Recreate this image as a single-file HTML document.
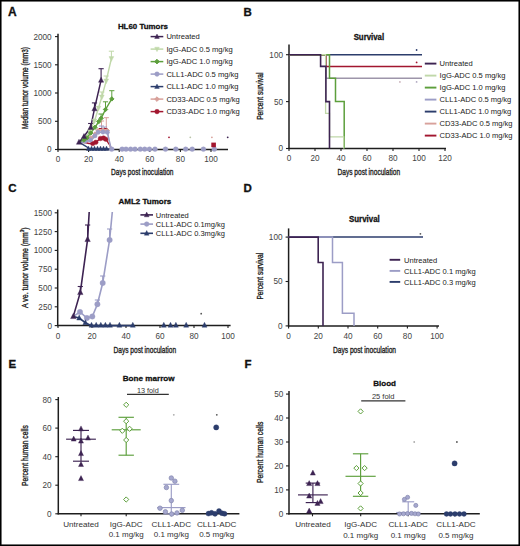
<!DOCTYPE html>
<html><head><meta charset="utf-8"><style>
html,body{margin:0;padding:0;background:#fff;}
svg{display:block;font-family:"Liberation Sans", sans-serif;}
</style></head><body>
<svg width="520" height="546" viewBox="0 0 520 546">
<rect x="0" y="0" width="520" height="546" fill="#fff"/>
<text x="8.1" y="15.6" font-size="12" text-anchor="start" fill="#111" font-weight="bold" stroke="#111" stroke-width="0.3">A</text>
<text x="243.5" y="15.5" font-size="11.5" text-anchor="start" fill="#111" font-weight="bold" stroke="#111" stroke-width="0.3">B</text>
<text x="8.2" y="191.6" font-size="11.5" text-anchor="start" fill="#111" font-weight="bold" stroke="#111" stroke-width="0.3">C</text>
<text x="243.5" y="191.6" font-size="11.5" text-anchor="start" fill="#111" font-weight="bold" stroke="#111" stroke-width="0.3">D</text>
<text x="8.4" y="368.3" font-size="11.5" text-anchor="start" fill="#111" font-weight="bold" stroke="#111" stroke-width="0.3">E</text>
<text x="244.4" y="368.2" font-size="11.5" text-anchor="start" fill="#111" font-weight="bold" stroke="#111" stroke-width="0.3">F</text>
<text x="142.9" y="28.6" font-size="8" text-anchor="middle" fill="#111" font-weight="bold" textLength="50" lengthAdjust="spacingAndGlyphs" stroke="#111" stroke-width="0.3">HL60 Tumors</text>
<line x1="58.0" y1="33.8" x2="58.0" y2="150.1" stroke="#1e1e1e" stroke-width="1.5" />
<line x1="55.0" y1="36.6" x2="58.0" y2="36.6" stroke="#1e1e1e" stroke-width="1.1" />
<text x="51.6" y="39.5" font-size="8.2" text-anchor="end" fill="#444" >2000</text>
<line x1="55.0" y1="64.8" x2="58.0" y2="64.8" stroke="#1e1e1e" stroke-width="1.1" />
<text x="51.6" y="67.7" font-size="8.2" text-anchor="end" fill="#444" >1500</text>
<line x1="55.0" y1="93.0" x2="58.0" y2="93.0" stroke="#1e1e1e" stroke-width="1.1" />
<text x="51.6" y="96.0" font-size="8.2" text-anchor="end" fill="#444" >1000</text>
<line x1="55.0" y1="121.3" x2="58.0" y2="121.3" stroke="#1e1e1e" stroke-width="1.1" />
<text x="51.6" y="124.2" font-size="8.2" text-anchor="end" fill="#444" >500</text>
<line x1="55.0" y1="149.5" x2="58.0" y2="149.5" stroke="#1e1e1e" stroke-width="1.1" />
<text x="51.6" y="152.4" font-size="8.2" text-anchor="end" fill="#444" >0</text>
<line x1="57.3" y1="149.5" x2="228.0" y2="149.5" stroke="#1e1e1e" stroke-width="1.5" />
<line x1="58.0" y1="149.5" x2="58.0" y2="152.0" stroke="#1e1e1e" stroke-width="1.1" />
<text x="58.0" y="162.4" font-size="8.2" text-anchor="middle" fill="#444" >0</text>
<line x1="88.6" y1="149.5" x2="88.6" y2="152.0" stroke="#1e1e1e" stroke-width="1.1" />
<text x="88.6" y="162.4" font-size="8.2" text-anchor="middle" fill="#444" >20</text>
<line x1="119.2" y1="149.5" x2="119.2" y2="152.0" stroke="#1e1e1e" stroke-width="1.1" />
<text x="119.2" y="162.4" font-size="8.2" text-anchor="middle" fill="#444" >40</text>
<line x1="149.8" y1="149.5" x2="149.8" y2="152.0" stroke="#1e1e1e" stroke-width="1.1" />
<text x="149.8" y="162.4" font-size="8.2" text-anchor="middle" fill="#444" >60</text>
<line x1="180.4" y1="149.5" x2="180.4" y2="152.0" stroke="#1e1e1e" stroke-width="1.1" />
<text x="180.4" y="162.4" font-size="8.2" text-anchor="middle" fill="#444" >80</text>
<line x1="211.0" y1="149.5" x2="211.0" y2="152.0" stroke="#1e1e1e" stroke-width="1.1" />
<text x="211.0" y="162.4" font-size="8.2" text-anchor="middle" fill="#444" >100</text>
<text x="142.3" y="175.4" font-size="9.4" text-anchor="middle" fill="#222" textLength="62.4" lengthAdjust="spacingAndGlyphs" stroke="#222" stroke-width="0.35">Days post inoculation</text>
<text x="27.9" y="88.0" font-size="9.4" text-anchor="middle" fill="#222" textLength="82" lengthAdjust="spacingAndGlyphs" transform="rotate(-90 27.9 88.0)" stroke="#222" stroke-width="0.35">Median tumor volume (mm3)</text>
<text x="368.9" y="39.5" font-size="8.8" text-anchor="middle" fill="#111" font-weight="bold" textLength="30.5" lengthAdjust="spacingAndGlyphs" stroke="#111" stroke-width="0.3">Survival</text>
<line x1="289.0" y1="44.4" x2="289.0" y2="149.1" stroke="#1e1e1e" stroke-width="1.5" />
<line x1="286.0" y1="54.7" x2="289.0" y2="54.7" stroke="#1e1e1e" stroke-width="1.1" />
<text x="283.0" y="57.6" font-size="8.2" text-anchor="end" fill="#444" >100</text>
<line x1="286.0" y1="101.6" x2="289.0" y2="101.6" stroke="#1e1e1e" stroke-width="1.1" />
<text x="283.0" y="104.5" font-size="8.2" text-anchor="end" fill="#444" >50</text>
<line x1="286.0" y1="148.5" x2="289.0" y2="148.5" stroke="#1e1e1e" stroke-width="1.1" />
<text x="283.0" y="151.4" font-size="8.2" text-anchor="end" fill="#444" >0</text>
<line x1="288.3" y1="148.5" x2="446.0" y2="148.5" stroke="#1e1e1e" stroke-width="1.5" />
<line x1="289.0" y1="148.5" x2="289.0" y2="151.0" stroke="#1e1e1e" stroke-width="1.1" />
<text x="289.0" y="161.4" font-size="8.2" text-anchor="middle" fill="#444" >0</text>
<line x1="315.0" y1="148.5" x2="315.0" y2="151.0" stroke="#1e1e1e" stroke-width="1.1" />
<text x="315.0" y="161.4" font-size="8.2" text-anchor="middle" fill="#444" >20</text>
<line x1="341.0" y1="148.5" x2="341.0" y2="151.0" stroke="#1e1e1e" stroke-width="1.1" />
<text x="341.0" y="161.4" font-size="8.2" text-anchor="middle" fill="#444" >40</text>
<line x1="367.0" y1="148.5" x2="367.0" y2="151.0" stroke="#1e1e1e" stroke-width="1.1" />
<text x="367.0" y="161.4" font-size="8.2" text-anchor="middle" fill="#444" >60</text>
<line x1="393.0" y1="148.5" x2="393.0" y2="151.0" stroke="#1e1e1e" stroke-width="1.1" />
<text x="393.0" y="161.4" font-size="8.2" text-anchor="middle" fill="#444" >80</text>
<line x1="419.0" y1="148.5" x2="419.0" y2="151.0" stroke="#1e1e1e" stroke-width="1.1" />
<text x="419.0" y="161.4" font-size="8.2" text-anchor="middle" fill="#444" >100</text>
<line x1="445.0" y1="148.5" x2="445.0" y2="151.0" stroke="#1e1e1e" stroke-width="1.1" />
<text x="445.0" y="161.4" font-size="8.2" text-anchor="middle" fill="#444" >120</text>
<text x="368.8" y="175.4" font-size="9.4" text-anchor="middle" fill="#222" textLength="62.5" lengthAdjust="spacingAndGlyphs" stroke="#222" stroke-width="0.35">Days post inoculation</text>
<text x="263.1" y="96.2" font-size="9.4" text-anchor="middle" fill="#222" textLength="47.2" lengthAdjust="spacingAndGlyphs" transform="rotate(-90 263.1 96.2)" stroke="#222" stroke-width="0.35">Percent survival</text>
<text x="144.9" y="204.3" font-size="8" text-anchor="middle" fill="#111" font-weight="bold" textLength="52.8" lengthAdjust="spacingAndGlyphs" stroke="#111" stroke-width="0.3">AML2 Tumors</text>
<line x1="57.7" y1="209.5" x2="57.7" y2="326.2" stroke="#1e1e1e" stroke-width="1.5" />
<line x1="54.7" y1="212.8" x2="57.7" y2="212.8" stroke="#1e1e1e" stroke-width="1.1" />
<text x="52.0" y="215.7" font-size="8.2" text-anchor="end" fill="#444" >1500</text>
<line x1="54.7" y1="231.6" x2="57.7" y2="231.6" stroke="#1e1e1e" stroke-width="1.1" />
<text x="52.0" y="234.5" font-size="8.2" text-anchor="end" fill="#444" >1250</text>
<line x1="54.7" y1="250.4" x2="57.7" y2="250.4" stroke="#1e1e1e" stroke-width="1.1" />
<text x="52.0" y="253.3" font-size="8.2" text-anchor="end" fill="#444" >1000</text>
<line x1="54.7" y1="269.2" x2="57.7" y2="269.2" stroke="#1e1e1e" stroke-width="1.1" />
<text x="52.0" y="272.1" font-size="8.2" text-anchor="end" fill="#444" >750</text>
<line x1="54.7" y1="288.0" x2="57.7" y2="288.0" stroke="#1e1e1e" stroke-width="1.1" />
<text x="52.0" y="290.9" font-size="8.2" text-anchor="end" fill="#444" >500</text>
<line x1="54.7" y1="306.8" x2="57.7" y2="306.8" stroke="#1e1e1e" stroke-width="1.1" />
<text x="52.0" y="309.7" font-size="8.2" text-anchor="end" fill="#444" >250</text>
<line x1="54.7" y1="325.6" x2="57.7" y2="325.6" stroke="#1e1e1e" stroke-width="1.1" />
<text x="52.0" y="328.5" font-size="8.2" text-anchor="end" fill="#444" >0</text>
<line x1="57.0" y1="325.6" x2="230.6" y2="325.6" stroke="#1e1e1e" stroke-width="1.5" />
<line x1="58.0" y1="325.6" x2="58.0" y2="328.1" stroke="#1e1e1e" stroke-width="1.1" />
<text x="58.0" y="339.4" font-size="8.2" text-anchor="middle" fill="#444" >0</text>
<line x1="92.0" y1="325.6" x2="92.0" y2="328.1" stroke="#1e1e1e" stroke-width="1.1" />
<text x="92.0" y="339.4" font-size="8.2" text-anchor="middle" fill="#444" >20</text>
<line x1="126.0" y1="325.6" x2="126.0" y2="328.1" stroke="#1e1e1e" stroke-width="1.1" />
<text x="126.0" y="339.4" font-size="8.2" text-anchor="middle" fill="#444" >40</text>
<line x1="160.0" y1="325.6" x2="160.0" y2="328.1" stroke="#1e1e1e" stroke-width="1.1" />
<text x="160.0" y="339.4" font-size="8.2" text-anchor="middle" fill="#444" >60</text>
<line x1="194.0" y1="325.6" x2="194.0" y2="328.1" stroke="#1e1e1e" stroke-width="1.1" />
<text x="194.0" y="339.4" font-size="8.2" text-anchor="middle" fill="#444" >80</text>
<line x1="228.0" y1="325.6" x2="228.0" y2="328.1" stroke="#1e1e1e" stroke-width="1.1" />
<text x="228.0" y="339.4" font-size="8.2" text-anchor="middle" fill="#444" >100</text>
<text x="144.8" y="352.6" font-size="9.4" text-anchor="middle" fill="#222" textLength="62.6" lengthAdjust="spacingAndGlyphs" stroke="#222" stroke-width="0.35">Days post inoculation</text>
<text x="27.7" y="267.7" font-size="9.4" text-anchor="middle" fill="#222" textLength="80.5" lengthAdjust="spacingAndGlyphs" transform="rotate(-90 27.7 267.7)" stroke="#222" stroke-width="0.35">A ve. tumor volume (mm<tspan font-size="6" dy="-3.5">3</tspan><tspan dy="3.5">)</tspan></text>
<text x="364.4" y="222.2" font-size="8.8" text-anchor="middle" fill="#111" font-weight="bold" textLength="30.8" lengthAdjust="spacingAndGlyphs" stroke="#111" stroke-width="0.3">Survival</text>
<line x1="288.6" y1="228.4" x2="288.6" y2="326.5" stroke="#1e1e1e" stroke-width="1.5" />
<line x1="285.6" y1="237.1" x2="288.6" y2="237.1" stroke="#1e1e1e" stroke-width="1.1" />
<text x="282.5" y="240.0" font-size="8.2" text-anchor="end" fill="#444" >100</text>
<line x1="285.6" y1="281.5" x2="288.6" y2="281.5" stroke="#1e1e1e" stroke-width="1.1" />
<text x="282.5" y="284.4" font-size="8.2" text-anchor="end" fill="#444" >50</text>
<line x1="285.6" y1="325.9" x2="288.6" y2="325.9" stroke="#1e1e1e" stroke-width="1.1" />
<text x="282.5" y="328.8" font-size="8.2" text-anchor="end" fill="#444" >0</text>
<line x1="287.9" y1="325.9" x2="439.0" y2="325.9" stroke="#1e1e1e" stroke-width="1.5" />
<line x1="288.6" y1="325.9" x2="288.6" y2="328.4" stroke="#1e1e1e" stroke-width="1.1" />
<text x="288.6" y="338.9" font-size="8.2" text-anchor="middle" fill="#444" >0</text>
<line x1="318.3" y1="325.9" x2="318.3" y2="328.4" stroke="#1e1e1e" stroke-width="1.1" />
<text x="318.3" y="338.9" font-size="8.2" text-anchor="middle" fill="#444" >20</text>
<line x1="348.0" y1="325.9" x2="348.0" y2="328.4" stroke="#1e1e1e" stroke-width="1.1" />
<text x="348.0" y="338.9" font-size="8.2" text-anchor="middle" fill="#444" >40</text>
<line x1="377.7" y1="325.9" x2="377.7" y2="328.4" stroke="#1e1e1e" stroke-width="1.1" />
<text x="377.7" y="338.9" font-size="8.2" text-anchor="middle" fill="#444" >60</text>
<line x1="407.4" y1="325.9" x2="407.4" y2="328.4" stroke="#1e1e1e" stroke-width="1.1" />
<text x="407.4" y="338.9" font-size="8.2" text-anchor="middle" fill="#444" >80</text>
<line x1="437.1" y1="325.9" x2="437.1" y2="328.4" stroke="#1e1e1e" stroke-width="1.1" />
<text x="437.1" y="338.9" font-size="8.2" text-anchor="middle" fill="#444" >100</text>
<text x="364.5" y="352.6" font-size="9.4" text-anchor="middle" fill="#222" textLength="63.1" lengthAdjust="spacingAndGlyphs" stroke="#222" stroke-width="0.35">Days post inoculation</text>
<text x="263.0" y="276.2" font-size="9.4" text-anchor="middle" fill="#222" textLength="46.7" lengthAdjust="spacingAndGlyphs" transform="rotate(-90 263.0 276.2)" stroke="#222" stroke-width="0.35">Percent survival</text>
<text x="148.7" y="381.3" font-size="8" text-anchor="middle" fill="#111" font-weight="bold" textLength="51.9" lengthAdjust="spacingAndGlyphs" stroke="#111" stroke-width="0.3">Bone marrow</text>
<text x="147.8" y="392.8" font-size="7.6" text-anchor="middle" fill="#333" textLength="21.8" lengthAdjust="spacingAndGlyphs" >13 fold</text>
<line x1="127.0" y1="394.4" x2="168.8" y2="394.4" stroke="#333" stroke-width="1.2" />
<line x1="58.3" y1="397.0" x2="58.3" y2="514.4" stroke="#1e1e1e" stroke-width="1.5" />
<line x1="55.3" y1="399.6" x2="58.3" y2="399.6" stroke="#1e1e1e" stroke-width="1.1" />
<text x="51.5" y="402.5" font-size="8.2" text-anchor="end" fill="#444" >80</text>
<line x1="55.3" y1="428.1" x2="58.3" y2="428.1" stroke="#1e1e1e" stroke-width="1.1" />
<text x="51.5" y="431.0" font-size="8.2" text-anchor="end" fill="#444" >60</text>
<line x1="55.3" y1="456.7" x2="58.3" y2="456.7" stroke="#1e1e1e" stroke-width="1.1" />
<text x="51.5" y="459.6" font-size="8.2" text-anchor="end" fill="#444" >40</text>
<line x1="55.3" y1="485.2" x2="58.3" y2="485.2" stroke="#1e1e1e" stroke-width="1.1" />
<text x="51.5" y="488.1" font-size="8.2" text-anchor="end" fill="#444" >20</text>
<line x1="55.3" y1="513.8" x2="58.3" y2="513.8" stroke="#1e1e1e" stroke-width="1.1" />
<text x="51.5" y="516.7" font-size="8.2" text-anchor="end" fill="#444" >0</text>
<line x1="57.6" y1="513.8" x2="239.4" y2="513.8" stroke="#1e1e1e" stroke-width="1.5" />
<line x1="81.0" y1="513.8" x2="81.0" y2="516.3" stroke="#1e1e1e" stroke-width="1.1" />
<line x1="126.2" y1="513.8" x2="126.2" y2="516.3" stroke="#1e1e1e" stroke-width="1.1" />
<line x1="171.3" y1="513.8" x2="171.3" y2="516.3" stroke="#1e1e1e" stroke-width="1.1" />
<line x1="215.1" y1="513.8" x2="215.1" y2="516.3" stroke="#1e1e1e" stroke-width="1.1" />
<text x="81.0" y="526.9" font-size="8.1" text-anchor="middle" fill="#333" >Untreated</text>
<text x="126.2" y="526.9" font-size="8.1" text-anchor="middle" fill="#333" >IgG-ADC</text>
<text x="126.2" y="537.0" font-size="8.0" text-anchor="middle" fill="#333" >0.1 mg/kg</text>
<text x="171.3" y="526.9" font-size="8.1" text-anchor="middle" fill="#333" textLength="39.5" lengthAdjust="spacingAndGlyphs" >CLL1-ADC</text>
<text x="171.3" y="537.0" font-size="8.0" text-anchor="middle" fill="#333" >0.1 mg/kg</text>
<text x="216.7" y="526.9" font-size="8.1" text-anchor="middle" fill="#333" textLength="39.5" lengthAdjust="spacingAndGlyphs" >CLL1-ADC</text>
<text x="216.7" y="537.0" font-size="8.0" text-anchor="middle" fill="#333" >0.5 mg/kg</text>
<text x="27.8" y="455.6" font-size="9.4" text-anchor="middle" fill="#222" textLength="60.7" lengthAdjust="spacingAndGlyphs" transform="rotate(-90 27.8 455.6)" stroke="#222" stroke-width="0.35">Percent human cells</text>
<text x="384.6" y="386.2" font-size="8" text-anchor="middle" fill="#111" font-weight="bold" textLength="22.7" lengthAdjust="spacingAndGlyphs" stroke="#111" stroke-width="0.3">Blood</text>
<text x="383.2" y="398.6" font-size="7.6" text-anchor="middle" fill="#333" textLength="22.5" lengthAdjust="spacingAndGlyphs" >25 fold</text>
<line x1="361.2" y1="400.8" x2="405.4" y2="400.8" stroke="#333" stroke-width="1.2" />
<line x1="289.0" y1="391.0" x2="289.0" y2="514.4" stroke="#1e1e1e" stroke-width="1.5" />
<line x1="286.0" y1="394.1" x2="289.0" y2="394.1" stroke="#1e1e1e" stroke-width="1.1" />
<text x="283.3" y="397.0" font-size="8.2" text-anchor="end" fill="#444" >50</text>
<line x1="286.0" y1="418.0" x2="289.0" y2="418.0" stroke="#1e1e1e" stroke-width="1.1" />
<text x="283.3" y="420.9" font-size="8.2" text-anchor="end" fill="#444" >40</text>
<line x1="286.0" y1="442.0" x2="289.0" y2="442.0" stroke="#1e1e1e" stroke-width="1.1" />
<text x="283.3" y="444.9" font-size="8.2" text-anchor="end" fill="#444" >30</text>
<line x1="286.0" y1="465.9" x2="289.0" y2="465.9" stroke="#1e1e1e" stroke-width="1.1" />
<text x="283.3" y="468.8" font-size="8.2" text-anchor="end" fill="#444" >20</text>
<line x1="286.0" y1="489.9" x2="289.0" y2="489.9" stroke="#1e1e1e" stroke-width="1.1" />
<text x="283.3" y="492.8" font-size="8.2" text-anchor="end" fill="#444" >10</text>
<line x1="286.0" y1="513.8" x2="289.0" y2="513.8" stroke="#1e1e1e" stroke-width="1.1" />
<text x="283.3" y="516.7" font-size="8.2" text-anchor="end" fill="#444" >0</text>
<line x1="288.3" y1="513.8" x2="479.8" y2="513.8" stroke="#1e1e1e" stroke-width="1.5" />
<line x1="312.5" y1="513.8" x2="312.5" y2="516.3" stroke="#1e1e1e" stroke-width="1.1" />
<line x1="360.7" y1="513.8" x2="360.7" y2="516.3" stroke="#1e1e1e" stroke-width="1.1" />
<line x1="408.2" y1="513.8" x2="408.2" y2="516.3" stroke="#1e1e1e" stroke-width="1.1" />
<line x1="454.6" y1="513.8" x2="454.6" y2="516.3" stroke="#1e1e1e" stroke-width="1.1" />
<text x="313.0" y="527.0" font-size="8.1" text-anchor="middle" fill="#333" >Untreated</text>
<text x="360.7" y="527.0" font-size="8.1" text-anchor="middle" fill="#333" >IgG-ADC</text>
<text x="360.7" y="537.6" font-size="8.0" text-anchor="middle" fill="#333" >0.1 mg/kg</text>
<text x="408.2" y="527.0" font-size="8.1" text-anchor="middle" fill="#333" textLength="39.5" lengthAdjust="spacingAndGlyphs" >CLL1-ADC</text>
<text x="408.2" y="537.6" font-size="8.0" text-anchor="middle" fill="#333" >0.1 mg/kg</text>
<text x="456.0" y="527.0" font-size="8.1" text-anchor="middle" fill="#333" textLength="39.5" lengthAdjust="spacingAndGlyphs" >CLL1-ADC</text>
<text x="456.0" y="537.6" font-size="8.0" text-anchor="middle" fill="#333" >0.5 mg/kg</text>
<text x="263.1" y="452.3" font-size="9.4" text-anchor="middle" fill="#222" textLength="61.2" lengthAdjust="spacingAndGlyphs" transform="rotate(-90 263.1 452.3)" stroke="#222" stroke-width="0.35">Percent human cells</text>
<line x1="101.1" y1="80.2" x2="101.1" y2="68.7" stroke="#3d2352" stroke-width="1.1" />
<line x1="98.5" y1="68.7" x2="103.7" y2="68.7" stroke="#3d2352" stroke-width="1.1" />
<line x1="94.5" y1="108.7" x2="94.5" y2="102.9" stroke="#3d2352" stroke-width="1.1" />
<line x1="91.9" y1="102.9" x2="97.1" y2="102.9" stroke="#3d2352" stroke-width="1.1" />
<line x1="90.7" y1="127.3" x2="90.7" y2="123.5" stroke="#3d2352" stroke-width="1.1" />
<line x1="88.1" y1="123.5" x2="93.3" y2="123.5" stroke="#3d2352" stroke-width="1.1" />
<line x1="111.4" y1="58.5" x2="111.4" y2="51.2" stroke="#c0d8a9" stroke-width="1.0" />
<line x1="108.8" y1="51.2" x2="114.0" y2="51.2" stroke="#c0d8a9" stroke-width="1.0" />
<line x1="106.2" y1="80.9" x2="106.2" y2="76.0" stroke="#c0d8a9" stroke-width="1.0" />
<line x1="103.6" y1="76.0" x2="108.8" y2="76.0" stroke="#c0d8a9" stroke-width="1.0" />
<line x1="101.8" y1="97.0" x2="101.8" y2="92.0" stroke="#c0d8a9" stroke-width="1.0" />
<line x1="99.2" y1="92.0" x2="104.4" y2="92.0" stroke="#c0d8a9" stroke-width="1.0" />
<line x1="111.8" y1="98.9" x2="111.8" y2="90.7" stroke="#5d9f3c" stroke-width="1.0" />
<line x1="109.2" y1="90.7" x2="114.4" y2="90.7" stroke="#5d9f3c" stroke-width="1.0" />
<line x1="105.5" y1="109.5" x2="105.5" y2="101.8" stroke="#5d9f3c" stroke-width="1.0" />
<line x1="102.9" y1="101.8" x2="108.1" y2="101.8" stroke="#5d9f3c" stroke-width="1.0" />
<line x1="101.1" y1="118.3" x2="101.1" y2="114.0" stroke="#5d9f3c" stroke-width="1.0" />
<line x1="98.5" y1="114.0" x2="103.7" y2="114.0" stroke="#5d9f3c" stroke-width="1.0" />
<line x1="106.3" y1="130.0" x2="106.3" y2="117.7" stroke="#d8a19b" stroke-width="1.0" />
<line x1="103.7" y1="117.7" x2="108.9" y2="117.7" stroke="#d8a19b" stroke-width="1.0" />
<line x1="101.5" y1="130.0" x2="101.5" y2="121.0" stroke="#d8a19b" stroke-width="1.0" />
<line x1="98.9" y1="121.0" x2="104.1" y2="121.0" stroke="#d8a19b" stroke-width="1.0" />
<line x1="101.5" y1="132.0" x2="101.5" y2="126.0" stroke="#9c9dc6" stroke-width="1.0" />
<line x1="98.9" y1="126.0" x2="104.1" y2="126.0" stroke="#9c9dc6" stroke-width="1.0" />
<line x1="104.5" y1="132.5" x2="104.5" y2="127.0" stroke="#9c9dc6" stroke-width="1.0" />
<line x1="101.9" y1="127.0" x2="107.1" y2="127.0" stroke="#9c9dc6" stroke-width="1.0" />
<line x1="99.0" y1="128.6" x2="108.0" y2="128.6" stroke="#a2162f" stroke-width="1.2" />
<polyline points="79.0,142.2 85.0,142.5 89.0,143.5 92.7,143.5 95.8,142.3 100.4,138.5 103.5,138.0 105.8,139.2 110.4,146.0 111.0,149.0" fill="none" stroke="#a2162f" stroke-width="1.4" stroke-linejoin="miter" />
<circle cx="92.7" cy="143.5" r="2.3" fill="#a2162f" stroke="#a2162f" stroke-width="0.4"/>
<circle cx="95.8" cy="142.3" r="2.3" fill="#a2162f" stroke="#a2162f" stroke-width="0.4"/>
<circle cx="100.4" cy="138.5" r="2.3" fill="#a2162f" stroke="#a2162f" stroke-width="0.4"/>
<circle cx="103.5" cy="138.0" r="2.3" fill="#a2162f" stroke="#a2162f" stroke-width="0.4"/>
<circle cx="105.8" cy="139.2" r="2.3" fill="#a2162f" stroke="#a2162f" stroke-width="0.4"/>
<polyline points="79.0,142.2 85.0,140.0 90.4,138.0 95.0,134.0" fill="none" stroke="#d8a19b" stroke-width="1.3" stroke-linejoin="miter" />
<polyline points="79.0,142.2 85.0,141.2 90.4,140.0 95.0,135.8" fill="none" stroke="#9c9dc6" stroke-width="2.6" stroke-linejoin="miter" />
<polyline points="95.0,134.0 98.1,130.5 103.0,130.0 107.3,130.5 110.5,149.0" fill="none" stroke="#d8a19b" stroke-width="1.3" stroke-linejoin="miter" />
<polyline points="95.0,135.8 98.1,132.3 103.0,132.0 107.3,132.3 111.3,149.4" fill="none" stroke="#9c9dc6" stroke-width="1.5" stroke-linejoin="miter" />
<polyline points="79.0,142.2 84.0,139.5 90.0,131.5 94.5,121.0 98.5,108.0 101.8,97.0 106.2,80.9 111.4,58.5" fill="none" stroke="#c0d8a9" stroke-width="1.4" stroke-linejoin="miter" />
<polyline points="79.0,142.2 84.0,140.0 86.8,137.9 90.7,133.0 95.0,127.3 98.8,121.5 101.1,118.3 105.5,109.5 111.8,98.9" fill="none" stroke="#5d9f3c" stroke-width="1.4" stroke-linejoin="miter" />
<polyline points="79.0,142.2 84.0,136.5 90.7,127.3 94.5,108.7 101.1,80.2" fill="none" stroke="#3d2352" stroke-width="1.5" stroke-linejoin="miter" />
<polyline points="79.0,142.2 88.1,147.7 89.0,149.0 110.0,149.0" fill="none" stroke="#2c3d6c" stroke-width="1.5" stroke-linejoin="miter" />
<path d="M85.0,137.8 L87.2,140.0 L85.0,142.2 L82.8,140.0Z" fill="#d8a19b" stroke="#d8a19b" stroke-width="1.0"/>
<path d="M90.4,135.8 L92.6,138.0 L90.4,140.2 L88.2,138.0Z" fill="#d8a19b" stroke="#d8a19b" stroke-width="1.0"/>
<path d="M95.0,131.8 L97.2,134.0 L95.0,136.2 L92.8,134.0Z" fill="#d8a19b" stroke="#d8a19b" stroke-width="1.0"/>
<path d="M98.1,128.3 L100.3,130.5 L98.1,132.7 L95.9,130.5Z" fill="#d8a19b" stroke="#d8a19b" stroke-width="1.0"/>
<path d="M103.0,127.8 L105.2,130.0 L103.0,132.2 L100.8,130.0Z" fill="#d8a19b" stroke="#d8a19b" stroke-width="1.0"/>
<path d="M107.3,128.3 L109.5,130.5 L107.3,132.7 L105.1,130.5Z" fill="#d8a19b" stroke="#d8a19b" stroke-width="1.0"/>
<circle cx="85.0" cy="141.2" r="2.2" fill="#9c9dc6" stroke="#9c9dc6" stroke-width="0.4"/>
<circle cx="90.4" cy="140.0" r="2.2" fill="#9c9dc6" stroke="#9c9dc6" stroke-width="0.4"/>
<circle cx="95.0" cy="135.8" r="2.2" fill="#9c9dc6" stroke="#9c9dc6" stroke-width="0.4"/>
<circle cx="98.1" cy="132.3" r="2.2" fill="#9c9dc6" stroke="#9c9dc6" stroke-width="0.4"/>
<circle cx="103.0" cy="132.0" r="2.2" fill="#9c9dc6" stroke="#9c9dc6" stroke-width="0.4"/>
<circle cx="107.3" cy="132.3" r="2.2" fill="#9c9dc6" stroke="#9c9dc6" stroke-width="0.4"/>
<path d="M84.0,142.3 L86.4,137.6 L81.6,137.6Z" fill="#c0d8a9" stroke="#c0d8a9" stroke-width="0.4"/>
<path d="M90.0,134.3 L92.4,129.6 L87.6,129.6Z" fill="#c0d8a9" stroke="#c0d8a9" stroke-width="0.4"/>
<path d="M94.5,123.8 L96.9,119.1 L92.1,119.1Z" fill="#c0d8a9" stroke="#c0d8a9" stroke-width="0.4"/>
<path d="M98.5,110.8 L100.9,106.1 L96.1,106.1Z" fill="#c0d8a9" stroke="#c0d8a9" stroke-width="0.4"/>
<path d="M101.8,99.8 L104.2,95.1 L99.4,95.1Z" fill="#c0d8a9" stroke="#c0d8a9" stroke-width="0.4"/>
<path d="M106.2,83.7 L108.6,79.0 L103.8,79.0Z" fill="#c0d8a9" stroke="#c0d8a9" stroke-width="0.4"/>
<path d="M111.4,61.3 L113.8,56.6 L109.0,56.6Z" fill="#c0d8a9" stroke="#c0d8a9" stroke-width="0.4"/>
<path d="M84.0,137.8 L86.2,140.0 L84.0,142.2 L81.8,140.0Z" fill="#5d9f3c" stroke="#5d9f3c" stroke-width="1.0"/>
<path d="M86.8,135.7 L89.0,137.9 L86.8,140.1 L84.6,137.9Z" fill="#5d9f3c" stroke="#5d9f3c" stroke-width="1.0"/>
<path d="M90.7,130.8 L92.9,133.0 L90.7,135.2 L88.5,133.0Z" fill="#5d9f3c" stroke="#5d9f3c" stroke-width="1.0"/>
<path d="M95.0,125.1 L97.2,127.3 L95.0,129.5 L92.8,127.3Z" fill="#5d9f3c" stroke="#5d9f3c" stroke-width="1.0"/>
<path d="M98.8,119.3 L101.0,121.5 L98.8,123.7 L96.6,121.5Z" fill="#5d9f3c" stroke="#5d9f3c" stroke-width="1.0"/>
<path d="M101.1,116.1 L103.3,118.3 L101.1,120.5 L98.9,118.3Z" fill="#5d9f3c" stroke="#5d9f3c" stroke-width="1.0"/>
<path d="M105.5,107.3 L107.7,109.5 L105.5,111.7 L103.3,109.5Z" fill="#5d9f3c" stroke="#5d9f3c" stroke-width="1.0"/>
<path d="M111.8,96.7 L114.0,98.9 L111.8,101.1 L109.6,98.9Z" fill="#5d9f3c" stroke="#5d9f3c" stroke-width="1.0"/>
<path d="M88.5,146.1 L90.7,150.4 L86.3,150.4Z" fill="#2c3d6c" stroke="#2c3d6c" stroke-width="0.4"/>
<path d="M91.5,146.1 L93.7,150.4 L89.3,150.4Z" fill="#2c3d6c" stroke="#2c3d6c" stroke-width="0.4"/>
<path d="M94.5,146.1 L96.7,150.4 L92.3,150.4Z" fill="#2c3d6c" stroke="#2c3d6c" stroke-width="0.4"/>
<path d="M97.5,146.1 L99.7,150.4 L95.3,150.4Z" fill="#2c3d6c" stroke="#2c3d6c" stroke-width="0.4"/>
<path d="M100.5,146.1 L102.7,150.4 L98.3,150.4Z" fill="#2c3d6c" stroke="#2c3d6c" stroke-width="0.4"/>
<path d="M103.5,146.1 L105.7,150.4 L101.3,150.4Z" fill="#2c3d6c" stroke="#2c3d6c" stroke-width="0.4"/>
<path d="M106.5,146.1 L108.7,150.4 L104.3,150.4Z" fill="#2c3d6c" stroke="#2c3d6c" stroke-width="0.4"/>
<path d="M79.0,139.2 L81.6,144.3 L76.4,144.3Z" fill="#3d2352" stroke="#3d2352" stroke-width="0.4"/>
<path d="M84.0,133.5 L86.6,138.6 L81.4,138.6Z" fill="#3d2352" stroke="#3d2352" stroke-width="0.4"/>
<path d="M90.7,124.3 L93.3,129.4 L88.1,129.4Z" fill="#3d2352" stroke="#3d2352" stroke-width="0.4"/>
<path d="M94.5,105.7 L97.1,110.8 L91.9,110.8Z" fill="#3d2352" stroke="#3d2352" stroke-width="0.4"/>
<path d="M101.1,77.2 L103.7,82.3 L98.5,82.3Z" fill="#3d2352" stroke="#3d2352" stroke-width="0.4"/>
<circle cx="111.7" cy="149.2" r="2.4" fill="#9c9dc6" stroke="#9c9dc6" stroke-width="0.4"/>
<circle cx="122.1" cy="149.2" r="2.4" fill="#9c9dc6" stroke="#9c9dc6" stroke-width="0.4"/>
<circle cx="126.0" cy="149.2" r="2.4" fill="#9c9dc6" stroke="#9c9dc6" stroke-width="0.4"/>
<circle cx="130.6" cy="149.2" r="2.4" fill="#9c9dc6" stroke="#9c9dc6" stroke-width="0.4"/>
<circle cx="135.0" cy="149.2" r="2.4" fill="#9c9dc6" stroke="#9c9dc6" stroke-width="0.4"/>
<circle cx="140.3" cy="149.2" r="2.4" fill="#9c9dc6" stroke="#9c9dc6" stroke-width="0.4"/>
<circle cx="144.7" cy="149.2" r="2.4" fill="#9c9dc6" stroke="#9c9dc6" stroke-width="0.4"/>
<circle cx="149.4" cy="149.2" r="2.4" fill="#9c9dc6" stroke="#9c9dc6" stroke-width="0.4"/>
<circle cx="155.0" cy="149.2" r="2.4" fill="#9c9dc6" stroke="#9c9dc6" stroke-width="0.4"/>
<circle cx="165.5" cy="149.2" r="2.4" fill="#9c9dc6" stroke="#9c9dc6" stroke-width="0.4"/>
<circle cx="175.8" cy="149.2" r="2.4" fill="#9c9dc6" stroke="#9c9dc6" stroke-width="0.4"/>
<circle cx="185.7" cy="149.2" r="2.4" fill="#9c9dc6" stroke="#9c9dc6" stroke-width="0.4"/>
<circle cx="192.2" cy="149.2" r="2.4" fill="#9c9dc6" stroke="#9c9dc6" stroke-width="0.4"/>
<circle cx="203.4" cy="149.2" r="2.4" fill="#9c9dc6" stroke="#9c9dc6" stroke-width="0.4"/>
<circle cx="214.3" cy="149.2" r="2.4" fill="#9c9dc6" stroke="#9c9dc6" stroke-width="0.4"/>
<rect x="211.3" y="142.6" width="4.6" height="4.6" fill="#a2162f"/>
<circle cx="169" cy="137.3" r="0.9" fill="#a2162f"/>
<circle cx="190.3" cy="137.3" r="0.9" fill="#b9c4a8"/>
<circle cx="211.9" cy="137.3" r="0.9" fill="#d8a19b"/>
<circle cx="227.7" cy="137.3" r="0.9" fill="#3d2352"/>
<line x1="150.6" y1="36.6" x2="163.3" y2="36.6" stroke="#3d2352" stroke-width="1.5" />
<path d="M157.0,34.0 L159.3,38.5 L154.7,38.5Z" fill="#3d2352" stroke="#3d2352" stroke-width="0.4"/>
<text x="166.4" y="39.4" font-size="7.6" text-anchor="start" fill="#222" >Untreated</text>
<line x1="150.6" y1="49.1" x2="163.3" y2="49.1" stroke="#c0d8a9" stroke-width="1.5" />
<path d="M157.0,51.7 L159.3,47.2 L154.7,47.2Z" fill="#c0d8a9" stroke="#c0d8a9" stroke-width="0.4"/>
<text x="166.4" y="51.9" font-size="7.6" text-anchor="start" fill="#222" >IgG-ADC 0.5 mg/kg</text>
<line x1="150.6" y1="61.6" x2="163.3" y2="61.6" stroke="#5d9f3c" stroke-width="1.5" />
<path d="M157.0,59.3 L159.3,61.6 L157.0,63.9 L154.7,61.6Z" fill="#5d9f3c" stroke="#5d9f3c" stroke-width="1.0"/>
<text x="166.4" y="64.4" font-size="7.6" text-anchor="start" fill="#222" >IgG-ADC 1.0 mg/kg</text>
<line x1="150.6" y1="74.1" x2="163.3" y2="74.1" stroke="#9c9dc6" stroke-width="1.5" />
<circle cx="157.0" cy="74.1" r="2.3" fill="#9c9dc6" stroke="#9c9dc6" stroke-width="0.4"/>
<text x="166.4" y="76.9" font-size="7.6" text-anchor="start" fill="#222" >CLL1-ADC 0.5 mg/kg</text>
<line x1="150.6" y1="86.6" x2="163.3" y2="86.6" stroke="#2c3d6c" stroke-width="1.5" />
<path d="M157.0,84.0 L159.3,88.5 L154.7,88.5Z" fill="#2c3d6c" stroke="#2c3d6c" stroke-width="0.4"/>
<text x="166.4" y="89.4" font-size="7.6" text-anchor="start" fill="#222" >CLL1-ADC 1.0 mg/kg</text>
<line x1="150.6" y1="99.1" x2="163.3" y2="99.1" stroke="#d8a19b" stroke-width="1.5" />
<path d="M157.0,96.8 L159.3,99.1 L157.0,101.4 L154.7,99.1Z" fill="#d8a19b" stroke="#d8a19b" stroke-width="1.0"/>
<text x="166.4" y="101.9" font-size="7.6" text-anchor="start" fill="#222" >CD33-ADC 0.5 mg/kg</text>
<line x1="150.6" y1="111.6" x2="163.3" y2="111.6" stroke="#a2162f" stroke-width="1.5" />
<circle cx="157.0" cy="111.6" r="2.3" fill="#a2162f" stroke="#a2162f" stroke-width="0.4"/>
<text x="166.4" y="114.4" font-size="7.6" text-anchor="start" fill="#222" >CD33-ADC 1.0 mg/kg</text>
<polyline points="289.0,54.7 422.0,54.7" fill="none" stroke="#2c3d6c" stroke-width="1.5" stroke-linejoin="miter" />
<polyline points="289.0,54.7 325.9,54.7 325.9,78.2 422.0,78.2" fill="none" stroke="#9d95aa" stroke-width="1.6" stroke-linejoin="miter" />
<polyline points="289.0,54.7 325.9,54.7 325.9,66.4 422.0,66.4" fill="none" stroke="#a2162f" stroke-width="1.5" stroke-linejoin="miter" />
<polyline points="289.0,54.7 329.5,54.7 329.5,78.2 335.5,78.2 335.5,101.6 344.2,101.6 344.2,148.5" fill="none" stroke="#5d9f3c" stroke-width="1.5" stroke-linejoin="miter" />
<polyline points="289.0,54.7 325.6,54.7 325.6,113.3 329.5,113.3 329.5,136.8 343.7,136.8 343.7,148.5" fill="none" stroke="#c0d8a9" stroke-width="1.3" stroke-linejoin="miter" />
<polyline points="289.0,54.7 320.6,54.7 320.6,66.4 325.9,66.4 325.9,101.6 329.5,101.6 329.5,148.5" fill="none" stroke="#3d2352" stroke-width="1.6" stroke-linejoin="miter" />
<circle cx="416.6" cy="50" r="0.9" fill="#2c3d6c"/>
<circle cx="416.6" cy="62.4" r="0.9" fill="#a2162f"/>
<circle cx="399.9" cy="81.9" r="0.9" fill="#c8b0b8"/>
<circle cx="416.6" cy="81.9" r="0.9" fill="#b0a8c0"/>
<line x1="424.8" y1="63.6" x2="436.4" y2="63.6" stroke="#3d2352" stroke-width="1.9" />
<text x="439.6" y="66.4" font-size="7.55" text-anchor="start" fill="#222" >Untreated</text>
<line x1="424.8" y1="75.6" x2="436.4" y2="75.6" stroke="#c0d8a9" stroke-width="1.9" />
<text x="439.6" y="78.4" font-size="7.55" text-anchor="start" fill="#222" >IgG-ADC 0.5 mg/kg</text>
<line x1="424.8" y1="87.6" x2="436.4" y2="87.6" stroke="#5d9f3c" stroke-width="1.9" />
<text x="439.6" y="90.4" font-size="7.55" text-anchor="start" fill="#222" >IgG-ADC 1.0 mg/kg</text>
<line x1="424.8" y1="99.6" x2="436.4" y2="99.6" stroke="#9c9dc6" stroke-width="1.9" />
<text x="439.6" y="102.4" font-size="7.55" text-anchor="start" fill="#222" >CLL1-ADC 0.5 mg/kg</text>
<line x1="424.8" y1="111.6" x2="436.4" y2="111.6" stroke="#2c3d6c" stroke-width="1.9" />
<text x="439.6" y="114.4" font-size="7.55" text-anchor="start" fill="#222" >CLL1-ADC 1.0 mg/kg</text>
<line x1="424.8" y1="123.6" x2="436.4" y2="123.6" stroke="#d8a19b" stroke-width="1.9" />
<text x="439.6" y="126.4" font-size="7.55" text-anchor="start" fill="#222" >CD33-ADC 0.5 mg/kg</text>
<line x1="424.8" y1="135.6" x2="436.4" y2="135.6" stroke="#a2162f" stroke-width="1.9" />
<text x="439.6" y="138.4" font-size="7.55" text-anchor="start" fill="#222" >CD33-ADC 1.0 mg/kg</text>
<line x1="80.3" y1="292.4" x2="80.3" y2="286.5" stroke="#3d2352" stroke-width="1.1" />
<line x1="77.7" y1="286.5" x2="82.9" y2="286.5" stroke="#3d2352" stroke-width="1.1" />
<line x1="87.6" y1="239.4" x2="87.6" y2="225.0" stroke="#3d2352" stroke-width="1.1" />
<line x1="85.0" y1="225.0" x2="90.2" y2="225.0" stroke="#3d2352" stroke-width="1.1" />
<line x1="97.4" y1="304.2" x2="97.4" y2="300.0" stroke="#9c9dc6" stroke-width="1.1" />
<line x1="94.8" y1="300.0" x2="100.0" y2="300.0" stroke="#9c9dc6" stroke-width="1.1" />
<line x1="102.7" y1="283.0" x2="102.7" y2="276.0" stroke="#9c9dc6" stroke-width="1.1" />
<line x1="100.1" y1="276.0" x2="105.3" y2="276.0" stroke="#9c9dc6" stroke-width="1.1" />
<line x1="109.6" y1="240.0" x2="109.6" y2="229.0" stroke="#9c9dc6" stroke-width="1.1" />
<line x1="107.0" y1="229.0" x2="112.2" y2="229.0" stroke="#9c9dc6" stroke-width="1.1" />
<polyline points="73.3,316.4 80.0,312.0 86.9,318.0 92.3,316.5 97.4,304.2 102.7,283.0 109.6,240.0 112.3,212.0" fill="none" stroke="#9c9dc6" stroke-width="1.6" stroke-linejoin="miter" />
<polyline points="73.3,316.4 80.3,292.4 87.6,239.4 89.2,212.0" fill="none" stroke="#3d2352" stroke-width="1.6" stroke-linejoin="miter" />
<polyline points="73.3,316.4 79.2,318.0 85.4,322.7 91.5,325.6 133.0,325.6" fill="none" stroke="#2c3d6c" stroke-width="1.6" stroke-linejoin="miter" />
<circle cx="80.0" cy="312.0" r="2.7" fill="#9c9dc6" stroke="#9c9dc6" stroke-width="0.4"/>
<circle cx="86.9" cy="318.0" r="2.7" fill="#9c9dc6" stroke="#9c9dc6" stroke-width="0.4"/>
<circle cx="92.3" cy="316.5" r="2.7" fill="#9c9dc6" stroke="#9c9dc6" stroke-width="0.4"/>
<circle cx="97.4" cy="304.2" r="2.7" fill="#9c9dc6" stroke="#9c9dc6" stroke-width="0.4"/>
<circle cx="102.7" cy="283.0" r="2.7" fill="#9c9dc6" stroke="#9c9dc6" stroke-width="0.4"/>
<circle cx="109.6" cy="240.0" r="2.7" fill="#9c9dc6" stroke="#9c9dc6" stroke-width="0.4"/>
<path d="M73.3,313.3 L76.0,318.6 L70.6,318.6Z" fill="#3d2352" stroke="#3d2352" stroke-width="0.4"/>
<path d="M80.3,289.3 L83.0,294.6 L77.6,294.6Z" fill="#3d2352" stroke="#3d2352" stroke-width="0.4"/>
<path d="M87.6,236.3 L90.3,241.6 L84.9,241.6Z" fill="#3d2352" stroke="#3d2352" stroke-width="0.4"/>
<path d="M79.2,315.1 L81.7,320.0 L76.7,320.0Z" fill="#2c3d6c" stroke="#2c3d6c" stroke-width="0.4"/>
<path d="M85.4,319.8 L87.9,324.7 L82.9,324.7Z" fill="#2c3d6c" stroke="#2c3d6c" stroke-width="0.4"/>
<path d="M91.5,322.3 L94.0,327.2 L89.0,327.2Z" fill="#2c3d6c" stroke="#2c3d6c" stroke-width="0.4"/>
<path d="M96.2,322.3 L98.7,327.2 L93.7,327.2Z" fill="#2c3d6c" stroke="#2c3d6c" stroke-width="0.4"/>
<path d="M100.8,322.3 L103.3,327.2 L98.3,327.2Z" fill="#2c3d6c" stroke="#2c3d6c" stroke-width="0.4"/>
<path d="M105.4,322.3 L107.9,327.2 L102.9,327.2Z" fill="#2c3d6c" stroke="#2c3d6c" stroke-width="0.4"/>
<path d="M110.0,322.3 L112.5,327.2 L107.5,327.2Z" fill="#2c3d6c" stroke="#2c3d6c" stroke-width="0.4"/>
<path d="M119.4,322.3 L121.9,327.2 L116.9,327.2Z" fill="#2c3d6c" stroke="#2c3d6c" stroke-width="0.4"/>
<path d="M132.8,322.3 L135.3,327.2 L130.3,327.2Z" fill="#2c3d6c" stroke="#2c3d6c" stroke-width="0.4"/>
<path d="M163.8,322.3 L166.3,327.2 L161.3,327.2Z" fill="#2c3d6c" stroke="#2c3d6c" stroke-width="0.4"/>
<path d="M170.5,322.3 L173.0,327.2 L168.0,327.2Z" fill="#2c3d6c" stroke="#2c3d6c" stroke-width="0.4"/>
<path d="M175.9,322.3 L178.4,327.2 L173.4,327.2Z" fill="#2c3d6c" stroke="#2c3d6c" stroke-width="0.4"/>
<path d="M186.2,322.3 L188.7,327.2 L183.7,327.2Z" fill="#2c3d6c" stroke="#2c3d6c" stroke-width="0.4"/>
<path d="M204.5,322.3 L207.0,327.2 L202.0,327.2Z" fill="#2c3d6c" stroke="#2c3d6c" stroke-width="0.4"/>
<circle cx="201.2" cy="313.7" r="0.9" fill="#555"/>
<line x1="140.4" y1="214.9" x2="153.0" y2="214.9" stroke="#3d2352" stroke-width="1.6" />
<path d="M146.7,212.1 L149.1,216.8 L144.3,216.8Z" fill="#3d2352" stroke="#3d2352" stroke-width="0.4"/>
<text x="155.8" y="217.7" font-size="7.5" text-anchor="start" fill="#222" >Untreated</text>
<line x1="140.4" y1="224.1" x2="153.0" y2="224.1" stroke="#9c9dc6" stroke-width="1.6" />
<circle cx="146.7" cy="224.1" r="2.4" fill="#9c9dc6" stroke="#9c9dc6" stroke-width="0.4"/>
<text x="155.8" y="226.9" font-size="7.5" text-anchor="start" fill="#222" >CLL1-ADC 0.1mg/kg</text>
<line x1="140.4" y1="233.3" x2="153.0" y2="233.3" stroke="#2c3d6c" stroke-width="1.6" />
<path d="M146.7,230.5 L149.1,235.2 L144.3,235.2Z" fill="#2c3d6c" stroke="#2c3d6c" stroke-width="0.4"/>
<text x="155.8" y="236.1" font-size="7.5" text-anchor="start" fill="#222" >CLL1-ADC 0.3mg/kg</text>
<polyline points="288.6,237.1 423.0,237.1" fill="none" stroke="#2c3d6c" stroke-width="1.5" stroke-linejoin="miter" />
<polyline points="288.6,237.1 332.5,237.1 332.5,262.5 342.4,262.5 342.4,313.2 354.0,313.2 354.0,325.9" fill="none" stroke="#9c9dc6" stroke-width="1.5" stroke-linejoin="miter" />
<polyline points="288.6,237.1 318.2,237.1 318.2,262.5 323.0,262.5 323.0,325.9" fill="none" stroke="#3d2352" stroke-width="1.6" stroke-linejoin="miter" />
<circle cx="420.4" cy="233.8" r="0.9" fill="#555"/>
<line x1="389.6" y1="259.8" x2="400.2" y2="259.8" stroke="#3d2352" stroke-width="1.9" />
<text x="404.0" y="262.6" font-size="7.55" text-anchor="start" fill="#222" >Untreated</text>
<line x1="389.6" y1="270.9" x2="400.2" y2="270.9" stroke="#9c9dc6" stroke-width="1.9" />
<text x="404.0" y="273.7" font-size="7.55" text-anchor="start" fill="#222" >CLL1-ADC 0.1 mg/kg</text>
<line x1="389.6" y1="281.9" x2="400.2" y2="281.9" stroke="#2c3d6c" stroke-width="1.9" />
<text x="404.0" y="284.7" font-size="7.55" text-anchor="start" fill="#222" >CLL1-ADC 0.3 mg/kg</text>
<line x1="66.1" y1="439.2" x2="95.9" y2="439.2" stroke="#3d2352" stroke-width="1.15" />
<line x1="73.0" y1="430.4" x2="89.0" y2="430.4" stroke="#3d2352" stroke-width="1.15" />
<line x1="73.0" y1="461.2" x2="89.0" y2="461.2" stroke="#3d2352" stroke-width="1.15" />
<line x1="81.0" y1="430.4" x2="81.0" y2="461.2" stroke="#3d2352" stroke-width="1.15" />
<path d="M81.0,425.9 L83.5,430.9 L78.5,430.9Z" fill="#3d2352" stroke="#3d2352" stroke-width="0.4"/>
<path d="M73.7,436.1 L76.2,441.1 L71.2,441.1Z" fill="#3d2352" stroke="#3d2352" stroke-width="0.4"/>
<path d="M88.0,435.1 L90.5,440.1 L85.5,440.1Z" fill="#3d2352" stroke="#3d2352" stroke-width="0.4"/>
<path d="M81.0,438.1 L83.5,443.1 L78.5,443.1Z" fill="#3d2352" stroke="#3d2352" stroke-width="0.4"/>
<path d="M81.0,450.6 L83.5,455.6 L78.5,455.6Z" fill="#3d2352" stroke="#3d2352" stroke-width="0.4"/>
<path d="M81.0,461.5 L83.5,466.5 L78.5,466.5Z" fill="#3d2352" stroke="#3d2352" stroke-width="0.4"/>
<path d="M81.0,475.6 L83.5,480.6 L78.5,480.6Z" fill="#3d2352" stroke="#3d2352" stroke-width="0.4"/>
<line x1="111.7" y1="429.8" x2="140.7" y2="429.8" stroke="#5d9f3c" stroke-width="1.15" />
<line x1="118.5" y1="417.3" x2="133.9" y2="417.3" stroke="#5d9f3c" stroke-width="1.15" />
<line x1="118.5" y1="455.2" x2="133.9" y2="455.2" stroke="#5d9f3c" stroke-width="1.15" />
<line x1="126.2" y1="417.3" x2="126.2" y2="455.2" stroke="#5d9f3c" stroke-width="1.15" />
<path d="M126.2,402.2 L128.8,404.8 L126.2,407.4 L123.6,404.8Z" fill="#fff" stroke="#5d9f3c" stroke-width="1.0"/>
<path d="M126.2,418.6 L128.8,421.2 L126.2,423.8 L123.6,421.2Z" fill="#fff" stroke="#5d9f3c" stroke-width="1.0"/>
<path d="M122.3,428.2 L124.9,430.8 L122.3,433.4 L119.7,430.8Z" fill="#fff" stroke="#5d9f3c" stroke-width="1.0"/>
<path d="M129.6,426.2 L132.2,428.8 L129.6,431.4 L127.0,428.8Z" fill="#fff" stroke="#5d9f3c" stroke-width="1.0"/>
<path d="M126.2,437.4 L128.8,440.0 L126.2,442.6 L123.6,440.0Z" fill="#fff" stroke="#5d9f3c" stroke-width="1.0"/>
<path d="M126.2,496.9 L128.8,499.5 L126.2,502.1 L123.6,499.5Z" fill="#fff" stroke="#5d9f3c" stroke-width="1.0"/>
<line x1="157.1" y1="507.6" x2="185.5" y2="507.6" stroke="#9c9dc6" stroke-width="1.15" />
<line x1="163.4" y1="484.3" x2="179.2" y2="484.3" stroke="#9c9dc6" stroke-width="1.15" />
<line x1="163.4" y1="513.8" x2="179.2" y2="513.8" stroke="#9c9dc6" stroke-width="1.15" />
<line x1="171.3" y1="484.3" x2="171.3" y2="513.8" stroke="#9c9dc6" stroke-width="1.15" />
<circle cx="171.3" cy="478.0" r="2.25" fill="#a6a8cf" stroke="#8487ad" stroke-width="0.7"/>
<circle cx="174.9" cy="481.2" r="2.25" fill="#a6a8cf" stroke="#8487ad" stroke-width="0.7"/>
<circle cx="166.4" cy="487.5" r="2.25" fill="#a6a8cf" stroke="#8487ad" stroke-width="0.7"/>
<circle cx="171.3" cy="500.6" r="2.25" fill="#a6a8cf" stroke="#8487ad" stroke-width="0.7"/>
<circle cx="160.0" cy="508.2" r="2.25" fill="#a6a8cf" stroke="#8487ad" stroke-width="0.7"/>
<circle cx="182.3" cy="510.3" r="2.25" fill="#a6a8cf" stroke="#8487ad" stroke-width="0.7"/>
<circle cx="165.4" cy="511.8" r="2.25" fill="#a6a8cf" stroke="#8487ad" stroke-width="0.7"/>
<circle cx="171.7" cy="514.0" r="2.25" fill="#a6a8cf" stroke="#8487ad" stroke-width="0.7"/>
<circle cx="177.0" cy="512.9" r="2.25" fill="#a6a8cf" stroke="#8487ad" stroke-width="0.7"/>
<circle cx="208.5" cy="513.6" r="2.5" fill="#2c3d6c" stroke="#2c3d6c" stroke-width="0.4"/>
<circle cx="211.5" cy="512.8" r="2.5" fill="#2c3d6c" stroke="#2c3d6c" stroke-width="0.4"/>
<circle cx="215.0" cy="513.8" r="2.5" fill="#2c3d6c" stroke="#2c3d6c" stroke-width="0.4"/>
<circle cx="219.0" cy="511.0" r="2.5" fill="#2c3d6c" stroke="#2c3d6c" stroke-width="0.4"/>
<circle cx="222.0" cy="513.2" r="2.5" fill="#2c3d6c" stroke="#2c3d6c" stroke-width="0.4"/>
<circle cx="224.5" cy="513.8" r="2.5" fill="#2c3d6c" stroke="#2c3d6c" stroke-width="0.4"/>
<circle cx="216.2" cy="427.4" r="2.6" fill="#2c3d6c" stroke="#2c3d6c" stroke-width="0.4"/>
<circle cx="173.8" cy="414.8" r="0.9" fill="#aaa"/>
<circle cx="216.8" cy="414.8" r="0.9" fill="#555"/>
<line x1="298.0" y1="494.9" x2="327.8" y2="494.9" stroke="#3d2352" stroke-width="1.15" />
<line x1="305.7" y1="483.1" x2="320.1" y2="483.1" stroke="#3d2352" stroke-width="1.15" />
<line x1="305.7" y1="502.6" x2="320.1" y2="502.6" stroke="#3d2352" stroke-width="1.15" />
<line x1="312.9" y1="483.1" x2="312.9" y2="502.6" stroke="#3d2352" stroke-width="1.15" />
<path d="M312.9,470.1 L315.4,475.1 L310.3,475.1Z" fill="#3d2352" stroke="#3d2352" stroke-width="0.4"/>
<path d="M309.2,480.6 L311.8,485.6 L306.6,485.6Z" fill="#3d2352" stroke="#3d2352" stroke-width="0.4"/>
<path d="M317.5,480.6 L320.1,485.6 L314.9,485.6Z" fill="#3d2352" stroke="#3d2352" stroke-width="0.4"/>
<path d="M309.2,493.1 L311.8,498.1 L306.6,498.1Z" fill="#3d2352" stroke="#3d2352" stroke-width="0.4"/>
<path d="M317.5,500.4 L320.1,505.4 L314.9,505.4Z" fill="#3d2352" stroke="#3d2352" stroke-width="0.4"/>
<path d="M320.6,498.6 L323.2,503.6 L318.1,503.6Z" fill="#3d2352" stroke="#3d2352" stroke-width="0.4"/>
<path d="M309.2,508.1 L311.8,513.1 L306.6,513.1Z" fill="#3d2352" stroke="#3d2352" stroke-width="0.4"/>
<line x1="345.5" y1="476.3" x2="375.7" y2="476.3" stroke="#5d9f3c" stroke-width="1.15" />
<line x1="352.9" y1="453.8" x2="368.3" y2="453.8" stroke="#5d9f3c" stroke-width="1.15" />
<line x1="352.9" y1="496.3" x2="368.3" y2="496.3" stroke="#5d9f3c" stroke-width="1.15" />
<line x1="360.6" y1="453.8" x2="360.6" y2="496.3" stroke="#5d9f3c" stroke-width="1.15" />
<path d="M360.6,408.8 L363.2,411.4 L360.6,414.0 L358.0,411.4Z" fill="#fff" stroke="#5d9f3c" stroke-width="1.0"/>
<path d="M356.4,465.5 L359.0,468.1 L356.4,470.7 L353.8,468.1Z" fill="#fff" stroke="#5d9f3c" stroke-width="1.0"/>
<path d="M364.6,465.5 L367.2,468.1 L364.6,470.7 L362.0,468.1Z" fill="#fff" stroke="#5d9f3c" stroke-width="1.0"/>
<path d="M360.6,480.9 L363.2,483.5 L360.6,486.1 L358.0,483.5Z" fill="#fff" stroke="#5d9f3c" stroke-width="1.0"/>
<path d="M360.6,490.4 L363.2,493.0 L360.6,495.6 L358.0,493.0Z" fill="#fff" stroke="#5d9f3c" stroke-width="1.0"/>
<path d="M360.6,505.8 L363.2,508.4 L360.6,511.0 L358.0,508.4Z" fill="#fff" stroke="#5d9f3c" stroke-width="1.0"/>
<line x1="396.2" y1="512.5" x2="420.2" y2="512.5" stroke="#9c9dc6" stroke-width="1.15" />
<line x1="402.2" y1="501.8" x2="414.2" y2="501.8" stroke="#9c9dc6" stroke-width="1.15" />
<line x1="402.2" y1="513.8" x2="414.2" y2="513.8" stroke="#9c9dc6" stroke-width="1.15" />
<line x1="408.2" y1="501.8" x2="408.2" y2="513.8" stroke="#9c9dc6" stroke-width="1.15" />
<circle cx="407.6" cy="497.3" r="2.05" fill="#a6a8cf" stroke="#8487ad" stroke-width="0.7"/>
<circle cx="404.4" cy="499.4" r="2.05" fill="#a6a8cf" stroke="#8487ad" stroke-width="0.7"/>
<circle cx="415.8" cy="505.4" r="2.05" fill="#a6a8cf" stroke="#8487ad" stroke-width="0.7"/>
<circle cx="399.5" cy="514.0" r="2.05" fill="#a6a8cf" stroke="#8487ad" stroke-width="0.7"/>
<circle cx="403.5" cy="513.8" r="2.05" fill="#a6a8cf" stroke="#8487ad" stroke-width="0.7"/>
<circle cx="407.5" cy="513.6" r="2.05" fill="#a6a8cf" stroke="#8487ad" stroke-width="0.7"/>
<circle cx="411.5" cy="513.4" r="2.05" fill="#a6a8cf" stroke="#8487ad" stroke-width="0.7"/>
<circle cx="415.0" cy="513.8" r="2.05" fill="#a6a8cf" stroke="#8487ad" stroke-width="0.7"/>
<circle cx="418.3" cy="514.0" r="2.05" fill="#a6a8cf" stroke="#8487ad" stroke-width="0.7"/>
<circle cx="446.5" cy="514.0" r="2.4" fill="#2c3d6c" stroke="#2c3d6c" stroke-width="0.4"/>
<circle cx="450.5" cy="514.0" r="2.4" fill="#2c3d6c" stroke="#2c3d6c" stroke-width="0.4"/>
<circle cx="455.0" cy="514.0" r="2.4" fill="#2c3d6c" stroke="#2c3d6c" stroke-width="0.4"/>
<circle cx="459.5" cy="514.0" r="2.4" fill="#2c3d6c" stroke="#2c3d6c" stroke-width="0.4"/>
<circle cx="464.0" cy="514.0" r="2.4" fill="#2c3d6c" stroke="#2c3d6c" stroke-width="0.4"/>
<circle cx="454.6" cy="463.4" r="2.6" fill="#2c3d6c" stroke="#2c3d6c" stroke-width="0.4"/>
<circle cx="414.2" cy="442" r="0.9" fill="#aaa"/>
<circle cx="456.9" cy="442" r="0.9" fill="#555"/>
<rect x="0.75" y="0.75" width="518.5" height="544.5" fill="none" stroke="#000" stroke-width="1.6"/>
</svg>
</body></html>
